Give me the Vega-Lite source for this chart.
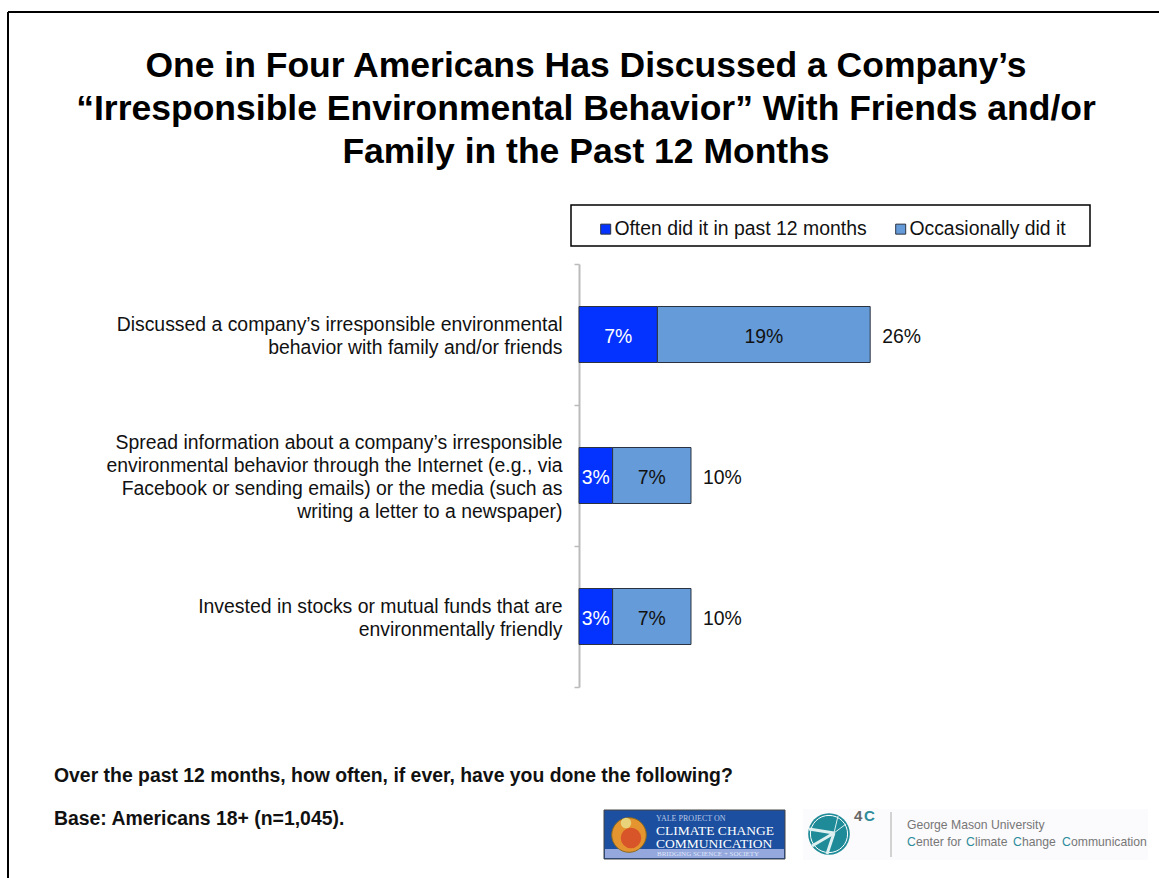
{"$schema":"https://vega.github.io/schema/vega-lite/v6.json",
"width":580,"height":423,"autosize":{"type":"none"},"padding":{"left":579,"top":264,"right":0,"bottom":191},"background":"white",
"config":{"view":{"stroke":null},"font":"Liberation Sans"},
"title":{"text":["One in Four Americans Has Discussed a Company’s","“Irresponsible Environmental Behavior” With Friends and/or","Family in the Past 12 Months"],"font":"Liberation Sans","fontSize":35.5,"fontWeight":"bold","color":"black","lineHeight":43,"anchor":"middle","dx":-283,"offset":-159,"frame":"group"},
"datasets":{"bars":[
{"item":"Discussed a company’s irresponsible environmental|behavior with family and/or friends","series":"Often did it in past 12 months","k":1,"value":7,"label":"7%"},
{"item":"Discussed a company’s irresponsible environmental|behavior with family and/or friends","series":"Occasionally did it","k":2,"value":19,"label":"19%"},
{"item":"Spread information about a company’s irresponsible|environmental behavior through the Internet (e.g., via|Facebook or sending emails) or the media (such as|writing a letter to a newspaper)","series":"Often did it in past 12 months","k":1,"value":3,"label":"3%"},
{"item":"Spread information about a company’s irresponsible|environmental behavior through the Internet (e.g., via|Facebook or sending emails) or the media (such as|writing a letter to a newspaper)","series":"Occasionally did it","k":2,"value":7,"label":"7%"},
{"item":"Invested in stocks or mutual funds that are|environmentally friendly","series":"Often did it in past 12 months","k":1,"value":3,"label":"3%"},
{"item":"Invested in stocks or mutual funds that are|environmentally friendly","series":"Occasionally did it","k":2,"value":7,"label":"7%"}],
"totals":[
{"item":"Discussed a company’s irresponsible environmental|behavior with family and/or friends","total":26,"label":"26%"},
{"item":"Spread information about a company’s irresponsible|environmental behavior through the Internet (e.g., via|Facebook or sending emails) or the media (such as|writing a letter to a newspaper)","total":10,"label":"10%"},
{"item":"Invested in stocks or mutual funds that are|environmentally friendly","total":10,"label":"10%"}],
"one":[{"a":1}]},
"resolve":{"scale":{"x":"independent","y":"independent","color":"independent"},"axis":{"x":"independent","y":"independent"}},
"layer":[
{"layer":[
{"data":{"name":"bars"},"mark":{"type":"bar","size":56,"stroke":"#2b3340","strokeWidth":1},
"encoding":{
"y":{"field":"item","type":"nominal","sort":null,"scale":{"padding":0},"axis":{"title":null,"labelExpr":"split(datum.label,'|')","labelFontSize":19.4,"labelFont":"Liberation Sans","labelColor":"#111","labelLimit":560,"labelLineHeight":23,"labelPadding":12,"labelAlign":"right","labelBaseline":"middle","tickBand":"extent","tickSize":5,"tickColor":"#bbb","tickWidth":1.5,"domainColor":"#bbb","domainWidth":2,"grid":false,"encoding":{"labels":{"dy":{"value":{"expr":"1-(length(split(datum.label,'|'))-1)*11.5"}}}}}},
"x":{"field":"value","type":"quantitative","stack":"zero","scale":{"domain":[0,51.79],"nice":false},"axis":{"title":["Over the past 12 months, how often, if ever, have you done the following?","Base: Americans 18+ (n=1,045)."],"titleFont":"Liberation Sans","titleFontSize":19.4,"titleFontWeight":"bold","titleColor":"#111","titleAlign":"left","titleAnchor":"start","titleBaseline":"alphabetic","titleLineHeight":43,"titleX":-525.5,"titleY":94,"labels":false,"ticks":false,"domain":false,"grid":false}},
"order":{"field":"k"},
"color":{"field":"series","type":"nominal","scale":{"domain":["Often did it in past 12 months","Occasionally did it"],"range":["#0433ff","#659bd8"]},"legend":{"title":null,"orient":"none","legendX":17,"legendY":-45,"direction":"horizontal","padding":0,"symbolType":"square","symbolSize":100,"symbolStrokeColor":"#2b3340","symbolStrokeWidth":1,"labelFontSize":19.4,"labelFont":"Liberation Sans","labelColor":"#111","labelLimit":400,"columnPadding":24,"labelOffset":-1}}}},
{"data":{"name":"bars"},"mark":{"type":"text","fontSize":19.4,"font":"Liberation Sans","dy":2},
"encoding":{"y":{"field":"item","type":"nominal","sort":null},
"x":{"field":"value","type":"quantitative","stack":"zero","bandPosition":0.5},
"order":{"field":"k"},"detail":{"field":"series"},
"text":{"field":"label"},
"color":{"condition":{"test":"datum.k===1","value":"white"},"value":"#111"}}},
{"data":{"name":"totals"},"mark":{"type":"text","fontSize":19.4,"font":"Liberation Sans","align":"left","dx":12,"dy":2,"color":"#111"},
"encoding":{"y":{"field":"item","type":"nominal","sort":null},"x":{"field":"total","type":"quantitative"},"text":{"field":"label"}}}
]},
{"layer":[
{"data":{"name":"one"},"mark":{"type":"rule","stroke":"black","strokeWidth":2},"encoding":{"x":{"datum":8,"type":"quantitative","scale":{"domain":[0,1159],"range":[-579,580],"nice":false,"zero":false},"axis":null},"x2":{"datum":8},"y":{"datum":12,"type":"quantitative","scale":{"domain":[0,878],"range":[-264,614],"nice":false,"zero":false},"axis":null},"y2":{"datum":878}}},
{"data":{"name":"one"},"mark":{"type":"rule","stroke":"black","strokeWidth":2},"encoding":{"x":{"datum":8,"type":"quantitative","axis":null},"x2":{"datum":1159},"y":{"datum":12,"type":"quantitative","axis":null},"y2":{"datum":12}}},
{"data":{"name":"one"},"mark":{"type":"rect","fill":"transparent","stroke":"black","strokeWidth":1.5},"encoding":{"x":{"datum":571,"type":"quantitative","axis":null},"x2":{"datum":1090},"y":{"datum":205,"type":"quantitative","axis":null},"y2":{"datum":246}}},
{"data":{"name":"one"},"mark":{"type":"rect","fill":"#1c4f9f","stroke":"#444","strokeWidth":1},"encoding":{"x":{"datum":604,"type":"quantitative","axis":null},"x2":{"datum":785},"y":{"datum":810,"type":"quantitative","axis":null},"y2":{"datum":859}}},
{"data":{"name":"one"},"mark":{"type":"rect","fill":"#94a8de"},"encoding":{"x":{"datum":605,"type":"quantitative","axis":null},"x2":{"datum":784},"y":{"datum":849,"type":"quantitative","axis":null},"y2":{"datum":858}}},
{"data":{"name":"one"},"mark":{"type":"point","filled":true,"shape":"circle","size":1195,"fill":"#e5952f","stroke":"#8a6a20","strokeWidth":1,"opacity":1},"encoding":{"x":{"datum":629,"type":"quantitative","axis":null},"y":{"datum":835,"type":"quantitative","axis":null}}},
{"data":{"name":"one"},"mark":{"type":"point","filled":true,"shape":"circle","size":420,"fill":"#d8552a","opacity":1},"encoding":{"x":{"datum":631,"type":"quantitative","axis":null},"y":{"datum":838,"type":"quantitative","axis":null}}},
{"data":{"name":"one"},"mark":{"type":"point","filled":true,"shape":"circle","size":110,"fill":"#e8d27a","opacity":1},"encoding":{"x":{"datum":626,"type":"quantitative","axis":null},"y":{"datum":823,"type":"quantitative","axis":null}}},
{"data":{"name":"one"},"mark":{"type":"text","text":"YALE PROJECT ON","font":"Liberation Serif","fontSize":8,"align":"left","baseline":"middle","fill":"#b9c8e6"},"encoding":{"x":{"datum":656,"type":"quantitative","axis":null},"y":{"datum":818.5,"type":"quantitative","axis":null}}},
{"data":{"name":"one"},"mark":{"type":"text","text":"CLIMATE CHANGE","font":"Liberation Serif","fontSize":13.5,"align":"left","baseline":"middle","fill":"white"},"encoding":{"x":{"datum":656,"type":"quantitative","axis":null},"y":{"datum":830.5,"type":"quantitative","axis":null}}},
{"data":{"name":"one"},"mark":{"type":"text","text":"COMMUNICATION","font":"Liberation Serif","fontSize":13.5,"align":"left","baseline":"middle","fill":"white"},"encoding":{"x":{"datum":656,"type":"quantitative","axis":null},"y":{"datum":844,"type":"quantitative","axis":null}}},
{"data":{"name":"one"},"mark":{"type":"text","text":"BRIDGING SCIENCE + SOCIETY","font":"Liberation Serif","fontSize":7,"align":"left","baseline":"middle","fill":"#dfe5f7"},"encoding":{"x":{"datum":657,"type":"quantitative","axis":null},"y":{"datum":854,"type":"quantitative","axis":null}}},
{"data":{"name":"one"},"mark":{"type":"rect","fill":"#fbfafc"},"encoding":{"x":{"datum":803,"type":"quantitative","axis":null},"x2":{"datum":1148},"y":{"datum":809,"type":"quantitative","axis":null},"y2":{"datum":860}}},
{"data":{"name":"one"},"mark":{"type":"point","filled":true,"shape":"circle","size":1735,"fill":"#1f8b98","opacity":1},"encoding":{"x":{"datum":829,"type":"quantitative","axis":null},"y":{"datum":834,"type":"quantitative","axis":null}}},
{"data":{"name":"one"},"mark":{"type":"point","filled":false,"shape":"circle","size":1385,"stroke":"white","strokeWidth":1,"opacity":1},"encoding":{"x":{"datum":829,"type":"quantitative","axis":null},"y":{"datum":834,"type":"quantitative","axis":null}}},
{"data":{"name":"one"},"mark":{"type":"rule","stroke":"#dff0f1","strokeWidth":3},"encoding":{"x":{"datum":834,"type":"quantitative","axis":null},"x2":{"datum":809},"y":{"datum":833,"type":"quantitative","axis":null},"y2":{"datum":829}}},
{"data":{"name":"one"},"mark":{"type":"rule","stroke":"#dff0f1","strokeWidth":3},"encoding":{"x":{"datum":834,"type":"quantitative","axis":null},"x2":{"datum":812},"y":{"datum":833,"type":"quantitative","axis":null},"y2":{"datum":846}}},
{"data":{"name":"one"},"mark":{"type":"rule","stroke":"#dff0f1","strokeWidth":3},"encoding":{"x":{"datum":834,"type":"quantitative","axis":null},"x2":{"datum":827},"y":{"datum":833,"type":"quantitative","axis":null},"y2":{"datum":854}}},
{"data":{"name":"one"},"mark":{"type":"rule","stroke":"#dff0f1","strokeWidth":1},"encoding":{"x":{"datum":834,"type":"quantitative","axis":null},"x2":{"datum":838},"y":{"datum":833,"type":"quantitative","axis":null},"y2":{"datum":816}}},
{"data":{"name":"one"},"mark":{"type":"rule","stroke":"#dff0f1","strokeWidth":1},"encoding":{"x":{"datum":834,"type":"quantitative","axis":null},"x2":{"datum":846},"y":{"datum":833,"type":"quantitative","axis":null},"y2":{"datum":824}}},
{"data":{"name":"one"},"mark":{"type":"text","text":"4","font":"Liberation Sans","fontSize":15,"fontWeight":"bold","align":"left","baseline":"middle","fill":"#666"},"encoding":{"x":{"datum":854,"type":"quantitative","axis":null},"y":{"datum":816,"type":"quantitative","axis":null}}},
{"data":{"name":"one"},"mark":{"type":"text","text":"C","font":"Liberation Sans","fontSize":15,"fontWeight":"bold","align":"left","baseline":"middle","fill":"#2c8c9b"},"encoding":{"x":{"datum":864,"type":"quantitative","axis":null},"y":{"datum":816,"type":"quantitative","axis":null}}},
{"data":{"name":"one"},"mark":{"type":"rule","stroke":"#c4c4c4","strokeWidth":1.5},"encoding":{"x":{"datum":891,"type":"quantitative","axis":null},"x2":{"datum":891},"y":{"datum":812,"type":"quantitative","axis":null},"y2":{"datum":857}}},
{"data":{"name":"one"},"mark":{"type":"text","text":"George Mason University","font":"Liberation Sans","fontSize":12.2,"align":"left","baseline":"middle","fill":"#777"},"encoding":{"x":{"datum":907,"type":"quantitative","axis":null},"y":{"datum":825,"type":"quantitative","axis":null}}},
{"data":{"name":"one"},"mark":{"type":"text","text":"C","font":"Liberation Sans","fontSize":12.2,"align":"left","baseline":"middle","fill":"#2c8c9b"},"encoding":{"x":{"datum":907,"type":"quantitative","axis":null},"y":{"datum":842,"type":"quantitative","axis":null}}},
{"data":{"name":"one"},"mark":{"type":"text","text":"enter for","font":"Liberation Sans","fontSize":12.2,"align":"left","baseline":"middle","fill":"#777"},"encoding":{"x":{"datum":916,"type":"quantitative","axis":null},"y":{"datum":842,"type":"quantitative","axis":null}}},
{"data":{"name":"one"},"mark":{"type":"text","text":"C","font":"Liberation Sans","fontSize":12.2,"align":"left","baseline":"middle","fill":"#2c8c9b"},"encoding":{"x":{"datum":966,"type":"quantitative","axis":null},"y":{"datum":842,"type":"quantitative","axis":null}}},
{"data":{"name":"one"},"mark":{"type":"text","text":"limate","font":"Liberation Sans","fontSize":12.2,"align":"left","baseline":"middle","fill":"#777"},"encoding":{"x":{"datum":975,"type":"quantitative","axis":null},"y":{"datum":842,"type":"quantitative","axis":null}}},
{"data":{"name":"one"},"mark":{"type":"text","text":"C","font":"Liberation Sans","fontSize":12.2,"align":"left","baseline":"middle","fill":"#2c8c9b"},"encoding":{"x":{"datum":1013,"type":"quantitative","axis":null},"y":{"datum":842,"type":"quantitative","axis":null}}},
{"data":{"name":"one"},"mark":{"type":"text","text":"hange","font":"Liberation Sans","fontSize":12.2,"align":"left","baseline":"middle","fill":"#777"},"encoding":{"x":{"datum":1022,"type":"quantitative","axis":null},"y":{"datum":842,"type":"quantitative","axis":null}}},
{"data":{"name":"one"},"mark":{"type":"text","text":"C","font":"Liberation Sans","fontSize":12.2,"align":"left","baseline":"middle","fill":"#2c8c9b"},"encoding":{"x":{"datum":1062,"type":"quantitative","axis":null},"y":{"datum":842,"type":"quantitative","axis":null}}},
{"data":{"name":"one"},"mark":{"type":"text","text":"ommunication","font":"Liberation Sans","fontSize":12.2,"align":"left","baseline":"middle","fill":"#777"},"encoding":{"x":{"datum":1071,"type":"quantitative","axis":null},"y":{"datum":842,"type":"quantitative","axis":null}}}
]}
]}
